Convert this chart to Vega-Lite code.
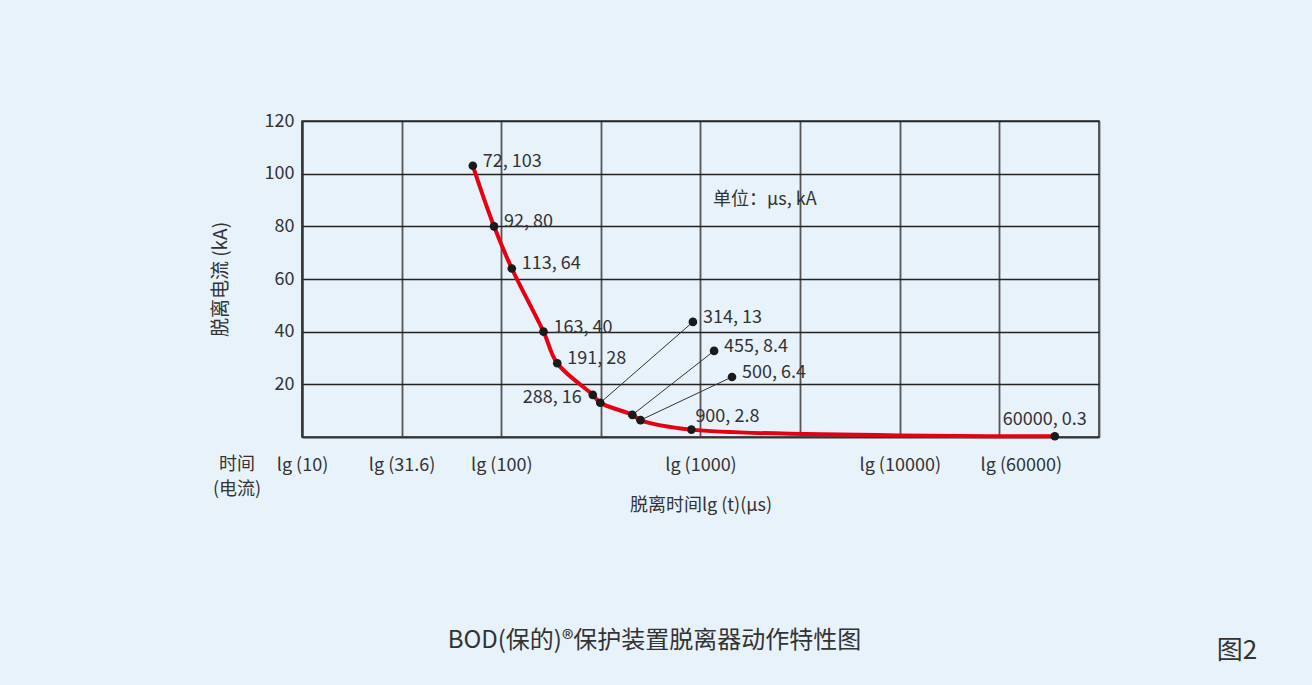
{
  "$schema": "https://vega.github.io/schema/vega-lite/v6.json",
  "autosize": {"type": "none"},
  "width": 797,
  "height": 316,
  "padding": {"left": 302, "top": 121, "right": 213, "bottom": 248},
  "background": "#e8f2fb",
  "config": {
    "font": "Noto Sans CJK SC",
    "view": {"stroke": "#333333", "strokeWidth": 1.6},
    "text": {"font": "Noto Sans CJK SC", "fontSize": 18, "color": "#333333"}
  },
  "title": {
    "text": "BOD(保的)®保护装置脱离器动作特性图",
    "orient": "bottom",
    "anchor": "middle",
    "frame": "group",
    "dx": -46,
    "offset": -35,
    "font": "Noto Sans CJK SC",
    "fontSize": 24,
    "fontWeight": "normal",
    "color": "#333333"
  },
  "datasets": {
    "points": [
      {"t": 72, "i": 103, "label": "72, 103"},
      {"t": 92, "i": 80, "label": "92, 80"},
      {"t": 113, "i": 64, "label": "113, 64"},
      {"t": 163, "i": 40, "label": "163, 40"},
      {"t": 191, "i": 28, "label": "191, 28"},
      {"t": 288, "i": 16, "label": "288, 16"},
      {"t": 314, "i": 13, "label": "314, 13"},
      {"t": 455, "i": 8.4, "label": "455, 8.4"},
      {"t": 500, "i": 6.4, "label": "500, 6.4"},
      {"t": 900, "i": 2.8, "label": "900, 2.8"},
      {"t": 60000, "i": 0.3, "label": "60000, 0.3"}
    ],
    "callouts": [
      {"t": 314, "i": 13, "lt": 916, "li": 43.7, "label": "314, 13"},
      {"t": 455, "i": 8.4, "lt": 1170, "li": 32.7, "label": "455, 8.4"},
      {"t": 500, "i": 6.4, "lt": 1439, "li": 22.8, "label": "500, 6.4"}
    ]
  },
  "layer": [
    {
      "data": {"name": "points"},
      "mark": {"type": "line", "color": "#e60012", "strokeWidth": 4, "interpolate": "catmull-rom"},
      "encoding": {
        "x": {
          "field": "t", "type": "quantitative",
          "scale": {"type": "log", "domain": [10, 100000], "nice": false},
          "title": "脱离时间lg (t)(μs)",
          "axis": {
            "values": [10, 31.6, 100, 316.2, 1000, 3162.3, 10000, 31622.8, 60000, 100000],
            "labelExpr": "(datum.value == 316.2 || datum.value == 3162.3 || datum.value == 31622.8 || datum.value == 100000) ? '' : 'lg (' + datum.value + ')'",
            "labelOffset": {"condition": {"test": "datum.value == 60000", "value": -34}, "value": 0},
            "gridOpacity": {"condition": {"test": "datum.value == 60000", "value": 0}, "value": 1},
            "grid": true,
            "gridColor": "#555555",
            "gridWidth": 1.8,
            "ticks": false,
            "domain": true,
            "domainColor": "#333333",
            "domainWidth": 2.2,
            "labelFont": "Noto Sans CJK SC",
            "labelFontSize": 18,
            "labelColor": "#333333",
            "labelPadding": 19,
            "labelFlush": false,
            "labelOverlap": false,
            "titleFont": "Noto Sans CJK SC",
            "titleFontSize": 18,
            "titleFontWeight": "normal",
            "titleColor": "#333333",
            "titlePadding": 22
          }
        },
        "y": {
          "field": "i", "type": "quantitative",
          "scale": {"domain": [0, 120], "nice": false},
          "title": "脱离电流 (kA)",
          "axis": {
            "values": [20, 40, 60, 80, 100, 120],
            "grid": true,
            "gridColor": "#222222",
            "gridWidth": 1.3,
            "ticks": false,
            "domain": true,
            "domainColor": "#333333",
            "domainWidth": 2.2,
            "labelFont": "Noto Sans CJK SC",
            "labelFontSize": 18,
            "labelColor": "#333333",
            "labelPadding": 8,
            "titleFont": "Noto Sans CJK SC",
            "titleFontSize": 19,
            "titleFontWeight": "normal",
            "titleColor": "#333333",
            "titlePadding": 34
          }
        }
      }
    },
    {
      "data": {"name": "callouts"},
      "mark": {"type": "rule", "color": "#333333", "strokeWidth": 1},
      "encoding": {
        "x": {"field": "t", "type": "quantitative", "scale": {"type": "log"}, "title": "脱离时间lg (t)(μs)"},
        "y": {"field": "i", "type": "quantitative", "title": "脱离电流 (kA)"},
        "x2": {"field": "lt"},
        "y2": {"field": "li"}
      }
    },
    {
      "data": {"name": "points"},
      "mark": {"type": "point", "filled": true, "color": "#1a1a1a", "opacity": 1, "size": 75},
      "encoding": {
        "x": {"field": "t", "type": "quantitative", "scale": {"type": "log"}, "title": "脱离时间lg (t)(μs)"},
        "y": {"field": "i", "type": "quantitative", "title": "脱离电流 (kA)"}
      }
    },
    {
      "data": {"name": "callouts"},
      "mark": {"type": "point", "filled": true, "color": "#1a1a1a", "opacity": 1, "size": 75},
      "encoding": {
        "x": {"field": "lt", "type": "quantitative", "scale": {"type": "log"}, "title": "脱离时间lg (t)(μs)"},
        "y": {"field": "li", "type": "quantitative", "title": "脱离电流 (kA)"}
      }
    },
    {
      "data": {"name": "points"},
      "transform": [{"filter": "datum.t < 250"}],
      "mark": {"type": "text", "align": "left", "baseline": "middle", "dx": 10, "dy": -4},
      "encoding": {
        "x": {"field": "t", "type": "quantitative", "scale": {"type": "log"}, "title": "脱离时间lg (t)(μs)"},
        "y": {"field": "i", "type": "quantitative", "title": "脱离电流 (kA)"},
        "text": {"field": "label"}
      }
    },
    {
      "data": {"name": "points"},
      "transform": [{"filter": "datum.t == 288"}],
      "mark": {"type": "text", "align": "right", "baseline": "middle", "dx": -11, "dy": 3},
      "encoding": {
        "x": {"field": "t", "type": "quantitative", "scale": {"type": "log"}, "title": "脱离时间lg (t)(μs)"},
        "y": {"field": "i", "type": "quantitative", "title": "脱离电流 (kA)"},
        "text": {"field": "label"}
      }
    },
    {
      "data": {"name": "points"},
      "transform": [{"filter": "datum.t == 900"}],
      "mark": {"type": "text", "align": "left", "baseline": "middle", "dx": 4, "dy": -13},
      "encoding": {
        "x": {"field": "t", "type": "quantitative", "scale": {"type": "log"}, "title": "脱离时间lg (t)(μs)"},
        "y": {"field": "i", "type": "quantitative", "title": "脱离电流 (kA)"},
        "text": {"field": "label"}
      }
    },
    {
      "data": {"name": "points"},
      "transform": [{"filter": "datum.t == 60000"}],
      "mark": {"type": "text", "align": "center", "baseline": "middle", "dx": -10, "dy": -16},
      "encoding": {
        "x": {"field": "t", "type": "quantitative", "scale": {"type": "log"}, "title": "脱离时间lg (t)(μs)"},
        "y": {"field": "i", "type": "quantitative", "title": "脱离电流 (kA)"},
        "text": {"field": "label"}
      }
    },
    {
      "data": {"name": "callouts"},
      "mark": {"type": "text", "align": "left", "baseline": "middle", "dx": 10, "dy": -4},
      "encoding": {
        "x": {"field": "lt", "type": "quantitative", "scale": {"type": "log"}, "title": "脱离时间lg (t)(μs)"},
        "y": {"field": "li", "type": "quantitative", "title": "脱离电流 (kA)"},
        "text": {"field": "label"}
      }
    },
    {
      "data": {"values": [{}]},
      "mark": {"type": "text", "align": "left", "baseline": "middle", "text": "单位：μs, kA"},
      "encoding": {
        "x": {"datum": 1155, "type": "quantitative", "scale": {"type": "log"}, "title": "脱离时间lg (t)(μs)"},
        "y": {"datum": 90, "type": "quantitative", "title": "脱离电流 (kA)"}
      }
    },
    {
      "data": {"values": [{}]},
      "mark": {"type": "text", "align": "center", "baseline": "top", "dx": -65, "dy": 19, "fontSize": 18, "lineHeight": 25, "clip": false, "text": ["时间", "(电流)"]},
      "encoding": {
        "x": {"datum": 10, "type": "quantitative", "scale": {"type": "log"}, "title": "脱离时间lg (t)(μs)"},
        "y": {"datum": 0, "type": "quantitative", "title": "脱离电流 (kA)"}
      }
    },
    {
      "data": {"values": [{}]},
      "mark": {"type": "text", "align": "center", "baseline": "middle", "dx": 138, "dy": 214, "fontSize": 26, "clip": false, "text": "图2"},
      "encoding": {
        "x": {"datum": 100000, "type": "quantitative", "scale": {"type": "log"}, "title": "脱离时间lg (t)(μs)"},
        "y": {"datum": 0, "type": "quantitative", "title": "脱离电流 (kA)"}
      }
    }
  ]
}
